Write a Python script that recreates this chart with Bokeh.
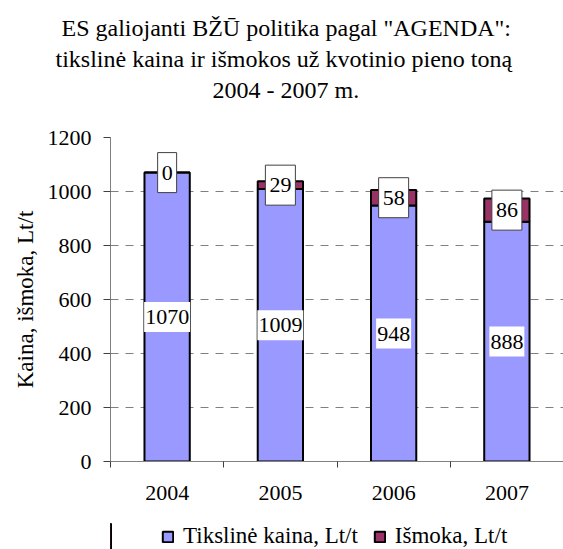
from bokeh.plotting import figure
from bokeh.models import Range1d, FixedTicker, Legend, LegendItem, Title, ColumnDataSource
from bokeh.layouts import column
from bokeh.core.properties import value
from bokeh.embed import file_html
from bokeh.resources import INLINE

# ---- data ----
years = ["2004", "2005", "2006", "2007"]
tiksline = [1070, 1009, 948, 888]
ismoka = [0, 29, 58, 86]
series_names = ["Tikslinė kaina, Lt/t", "Išmoka, Lt/t"]
y_ticks = [0, 200, 400, 600, 800, 1000, 1200]
title_lines = ['ES galiojanti BŽŪ politika pagal "AGENDA":',
               'tikslinė kaina ir išmokos už kvotinio pieno toną',
               '2004 - 2007 m.']
y_label = "Kaina, išmoka, Lt/t"

FONT = "Liberation Serif"
colors = ["#9999FF", "#993366"]

xs = [i + 0.5 for i in range(len(years))]
src = ColumnDataSource(dict(
    x=xs,
    tiksline=tiksline,
    ismoka=ismoka,
    mid_t=[a / 2 for a in tiksline],
    mid_i=[a + b / 2 for a, b in zip(tiksline, ismoka)],
    lab_t=[str(v) for v in tiksline],
    lab_i=[str(v) for v in ismoka],
))

LEG_H = 26
p = figure(frame_width=453, frame_height=324, output_backend="svg", toolbar_location=None,
           x_range=Range1d(0, len(years)), y_range=Range1d(0, 1200),
           min_border_left=110, min_border_right=0, min_border_top=137,
           min_border_bottom=88 - LEG_H)
p.outline_line_color = None
p.background_fill_color = "white"
p.border_fill_color = "white"

renderers = p.vbar_stack(["tiksline", "ismoka"], x="x", width=0.4, source=src,
                         fill_color=colors, line_color="black", line_width=2)

# value labels
p.text(x="x", y="mid_t", text="lab_t", source=src, text_align="center", text_baseline="middle",
       text_font=value(FONT), text_font_size="22px", text_color="black",
       background_fill_color="white", padding=dict(x=1, y=8))
p.text(x="x", y="mid_i", text="lab_i", source=src, text_align="center", text_baseline="middle",
       text_font=value(FONT), text_font_size="22px", text_color="black",
       background_fill_color="white", border_line_color="#404040", border_line_width=1,
       padding=dict(x=4, y=13))

# title lines in the top panel; a thin spacer sits nearest the frame
p.add_layout(Title(text=" ", text_font_size="2px", standoff=29), "above")
title_offsets = [-49, -55, 102]   # pixels from the frame's left edge
for line, off in reversed(list(zip(title_lines, title_offsets))):
    p.add_layout(Title(text=line, align="left", offset=off, standoff=3,
                       text_font=FONT, text_font_size="24px", text_font_style="normal",
                       text_color="black"), "above")

# axes
p.xaxis.ticker = FixedTicker(ticks=xs, minor_ticks=list(range(len(years) + 1)))
p.xaxis.major_label_overrides = {x: y for x, y in zip(xs, years)}
p.xaxis.major_tick_out = 0
p.xaxis.major_tick_in = 0
p.xaxis.minor_tick_out = 6
p.xaxis.minor_tick_in = 0
p.xaxis.major_label_standoff = 18
p.xaxis.axis_line_color = "#808080"
p.xaxis.minor_tick_line_color = "#404040"
p.xaxis.major_label_text_font = FONT
p.xaxis.major_label_text_font_size = "22px"
p.xaxis.major_label_text_color = "black"

p.yaxis.ticker = FixedTicker(ticks=y_ticks)
p.yaxis.major_tick_out = 7
p.yaxis.major_tick_in = 0
p.yaxis.minor_tick_line_color = None
p.yaxis.axis_line_color = "#808080"
p.yaxis.major_tick_line_color = "#404040"
p.yaxis.major_label_standoff = 12
p.yaxis.major_label_text_font = FONT
p.yaxis.major_label_text_font_size = "22px"
p.yaxis.major_label_text_color = "black"
p.yaxis.axis_label = y_label
p.yaxis.axis_label_text_font = FONT
p.yaxis.axis_label_text_font_size = "23px"
p.yaxis.axis_label_text_font_style = "normal"
p.yaxis.axis_label_text_color = "black"
p.yaxis.axis_label_standoff = 7

p.xgrid.grid_line_color = None
p.ygrid.grid_line_color = "#808080"
p.ygrid.grid_line_dash = "8 7"
p.ygrid.ticker = FixedTicker(ticks=y_ticks)

# legend strip: a small figure whose frame holds the legend; its swatch bars use the
# real data but the strip's x range is set far away so the bars themselves stay out of view
q = figure(frame_width=563, frame_height=LEG_H, output_backend="svg", toolbar_location=None,
           x_range=Range1d(1000, 1001), y_range=Range1d(0, 1),
           x_axis_location=None, y_axis_location=None,
           min_border_left=0, min_border_right=0, min_border_top=0, min_border_bottom=0)
q.outline_line_color = None
q.grid.grid_line_color = None
q.background_fill_color = "white"
q.border_fill_color = "white"
swatches = [q.vbar(x="x", top=col, width=0.4, source=src, fill_color=c,
                   line_color="black", line_width=2)
            for col, c in zip(["tiksline", "ismoka"], colors)]
legend = Legend(items=[LegendItem(label=n, renderers=[r]) for n, r in zip(series_names, swatches)],
                orientation="horizontal", location=(161, 0),
                glyph_width=13, glyph_height=13, label_standoff=9, spacing=15,
                label_text_font=FONT, label_text_font_size="23px", label_text_color="black",
                border_line_color=None, background_fill_alpha=0, padding=0, margin=0)
q.add_layout(legend, "center")

layout = column(p, q, spacing=0)
open("out.html", "w").write(file_html(layout, INLINE))
